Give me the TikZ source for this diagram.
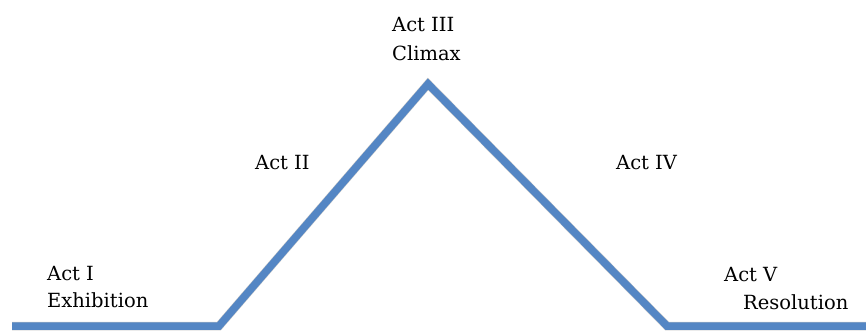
\documentclass[tikz,border=0pt]{standalone}
\usepackage{fontspec}
\setmainfont{DejaVu Serif}
\definecolor{actblue}{RGB}{84,134,196}
\tikzset{
    actlabel/.style={anchor=base west, inner sep=0pt, font=\fontsize{19.5}{23}\selectfont, text=black},
    arcline/.style={line width=7.5pt, draw=actblue, line join=miter},
    arcshadow/.style={line width=8.5pt, draw=black, opacity=0.22, line join=miter}
}
\begin{document}
\begin{tikzpicture}[x=1pt, y=-1pt]
    \useasboundingbox (0,0) rectangle (866,330);
    % the arc of the five acts
    \coordinate (start)  at (12,326);
    \coordinate (rise)   at (219,326);
    \coordinate (peak)   at (428,84);
    \coordinate (fall)   at (667,326);
    \coordinate (finish) at (872,326);
    \draw [arcshadow, shift={(1.5,2)}] (start) -- (rise) -- (peak) -- (fall) -- (finish);
    \draw [arcline] (start) -- (rise) -- (peak) -- (fall) -- (finish);
    % labels
    \node [actlabel] (actone)     at (47,280)  {Act I};
    \node [actlabel] (exhibition) at (47,307)  {Exhibition};
    \node [actlabel] (acttwo)     at (255,169) {Act II};
    \node [actlabel] (actthree)   at (392,31)  {Act III};
    \node [actlabel] (climax)     at (392,60)  {Climax};
    \node [actlabel] (actfour)    at (616,169) {Act IV};
    \node [actlabel] (actfive)    at (724,281) {Act V};
    \node [actlabel] (resolution) at (743,309) {Resolution};
\end{tikzpicture}
\end{document}
